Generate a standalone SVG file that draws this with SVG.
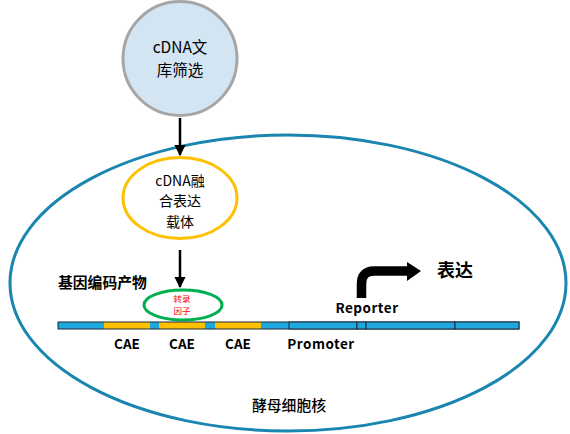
<svg xmlns="http://www.w3.org/2000/svg" width="570" height="434" viewBox="0 0 570 434">
<style>
.t{font-family:"Noto Sans CJK SC","Noto Sans",sans-serif;fill:#000}
.b{font-family:"Noto Sans CJK SC","Noto Sans",sans-serif;font-weight:bold;fill:#000}
.seg{stroke:#1a2a3a;stroke-width:1}
.blue{fill:#1fa8de}
.yel{fill:#ffc000}
.ar{stroke:#000;stroke-width:2.5;fill:none}
</style>
<defs>
<marker id="ah" viewBox="0 0 10 10" refX="9" refY="5" markerWidth="4.5" markerHeight="4.5" orient="auto" markerUnits="strokeWidth">
<path d="M0,0 L10,5 L0,10 z" fill="#000"/>
</marker>
</defs>
<rect width="570" height="434" fill="#fff"/>
<g id="nucleus">
<ellipse cx="288" cy="283" rx="278" ry="148" fill="none" stroke="#1a86b0" stroke-width="3"/>
<text class="t" x="289" y="411" font-size="14.8" font-weight="500" text-anchor="middle">酵母细胞核</text>
</g>
<g id="library">
<circle cx="180" cy="58.5" r="57" fill="#d3e5f3" stroke="#a6a6a6" stroke-width="3"/>
<text class="t" x="180" y="53" font-size="15.5" text-anchor="middle">cDNA文</text>
<text class="t" x="180" y="76" font-size="15.5" text-anchor="middle">库筛选</text>
</g>
<g id="vector">
<ellipse cx="180" cy="198" rx="57" ry="40.5" fill="#fff" stroke="#ffc000" stroke-width="3"/>
<text class="t" x="180" y="185.5" font-size="14" text-anchor="middle">cDNA融</text>
<text class="t" x="180" y="206" font-size="14" text-anchor="middle">合表达</text>
<text class="t" x="180" y="226.5" font-size="14" text-anchor="middle">载体</text>
</g>
<g id="product">
<text class="b" x="58" y="288" font-size="14.8">基因编码产物</text>
</g>
<g id="tf">
<ellipse cx="183" cy="305" rx="39" ry="15" fill="#fff" stroke="#00b050" stroke-width="3"/>
<text class="t" x="182" y="302" font-size="8.5" text-anchor="middle" style="fill:#ff0000">转录</text>
<text class="t" x="182" y="314" font-size="8.5" text-anchor="middle" style="fill:#ff0000">因子</text>
</g>
<g id="dna">
<rect class="blue" x="58" y="322" width="46" height="7"/>
<rect class="yel" x="104" y="322" width="46" height="7"/>
<rect class="blue" x="150" y="322" width="9" height="7"/>
<rect class="yel" x="159" y="322" width="46" height="7"/>
<rect class="blue" x="205" y="322" width="10" height="7"/>
<rect class="yel" x="215" y="322" width="46" height="7"/>
<rect class="blue" x="261" y="322" width="28" height="7"/>
<rect x="58" y="322" width="461" height="7" fill="none" stroke="#1a2a3a" stroke-width="1"/>
<rect class="seg blue" x="289" y="322" width="68" height="7"/>
<rect class="seg blue" x="357" y="322" width="9" height="7"/>
<rect class="seg blue" x="366" y="322" width="89" height="7"/>
<rect class="seg blue" x="455" y="322" width="64" height="7"/>
<text class="b" x="127" y="349" font-size="13.5" text-anchor="middle">CAE</text>
<text class="b" x="182" y="349" font-size="13.5" text-anchor="middle">CAE</text>
<text class="b" x="238" y="349" font-size="13.5" text-anchor="middle">CAE</text>
<text class="b" x="321" y="349" font-size="13.5" text-anchor="middle" letter-spacing="0.5">Promoter</text>
</g>
<g id="reporter">
<text class="b" x="367" y="313" font-size="13.5" text-anchor="middle" letter-spacing="0.5">Reporter</text>
<path d="M361.5,298 V284 Q361.5,271 374,271 H408" fill="none" stroke="#000" stroke-width="9.5"/>
<polygon points="407,262 421,271 407,281" fill="#000"/>
<text class="b" x="437" y="277" font-size="18">表达</text>
</g>
<g id="connectors">
<line class="ar" x1="180" y1="118" x2="180" y2="155" marker-end="url(#ah)"/>
<line class="ar" x1="180" y1="250" x2="180" y2="287" marker-end="url(#ah)"/>
</g>
</svg>
